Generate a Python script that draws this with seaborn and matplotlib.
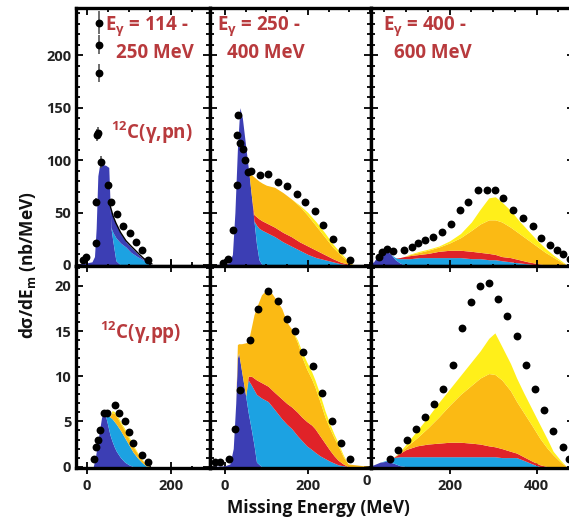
import numpy as np
import pandas as pd
import matplotlib
matplotlib.use("Agg")
import matplotlib.pyplot as plt
import seaborn as sns
from matplotlib.ticker import MultipleLocator

sns.set_style("ticks")
plt.rcParams['font.family'] = ['Open Sans', 'DejaVu Sans']
plt.rcParams['font.weight'] = 'bold'
plt.rcParams['mathtext.fontset'] = 'custom'
plt.rcParams['mathtext.rm'] = 'Open Sans:bold'
plt.rcParams['mathtext.it'] = 'Open Sans:bold'
plt.rcParams['mathtext.bf'] = 'Open Sans:bold'
plt.rcParams['mathtext.default'] = 'rm'

# ---------------- colours of model components ----------------
C_DB, C_LB, C_RD, C_OR, C_YL = "#3C3EB4", "#1CA2E2", "#E02328", "#FBBA14", "#FFEF1A"
TXT = "#B83A3D"

# ================= top row: 12C(g,pn) =================
# panel 1 : E_gamma 114-250 MeV
p1_x   = [-26, 0, 12, 18, 22, 26, 30, 35, 45, 52, 55, 57, 62, 69, 80, 93, 105, 120, 133, 145, 155]
p1_db  = [0, 2, 3, 8, 35, 85, 95, 96, 95, 93, 60, 36, 22, 4, 0, 0, 0, 0, 0, 0, 0]
p1_lb  = [0, 0, 0, 0, 0, 0, 0, 0, 0, 0, 0, 0, 9, 22, 21, 17, 12, 8, 5, 2, 0]
p1_db2 = [0, 0, 0, 0, 0, 0, 0, 0, 0, 0, 0, 16, 15, 13, 9, 5, 5, 3, 1, 1, 0]
p1_line_x = [53, 57, 62, 69, 80, 93, 105, 120, 133, 145, 155]
p1_line_y = [60, 54, 47, 40, 31, 23, 18, 12, 7, 3, 1]
p1_dx = [-10, -3, 21, 22, 24, 27, 28, 28, 28, 34, 50, 58, 72, 87, 102, 116, 130, 145]
p1_dy = [5, 8, 21, 60, 124, 126, 183, 210, 231, 98, 76, 60, 49, 37, 30, 22, 14, 5]
p1_de = [0, 0, 3, 4, 6, 6, 9, 9, 11, 6, 3, 3, 2, 2, 2, 2, 1, 1]

# panel 2 : E_gamma 250-400 MeV
p2_x  = [-36, 0, 10, 18, 24, 30, 36, 42, 48, 54, 58, 64, 70, 76, 82, 90, 100, 120, 140, 160, 180, 200, 220, 240, 260, 280, 300, 310]
p2_db = [0, 1, 2, 10, 50, 110, 150, 140, 120, 100, 87, 65, 42, 20, 5, 0, 0, 0, 0, 0, 0, 0, 0, 0, 0, 0, 0, 0]
p2_lb = [0, 0, 0, 0, 0, 0, 0, 0, 0, 0, 0, 0, 0, 18, 30, 33, 31, 27, 22, 18, 14, 10, 7, 5, 3, 1, 0, 0]
p2_rd = [0, 0, 0, 0, 0, 0, 0, 0, 0, 0, 0, 0, 6, 8, 9, 9, 9, 9, 9, 9, 8, 8, 7, 5, 3, 1.5, 0.5, 0]
p2_or = [0, 0, 0, 0, 0, 0, 0, 0, 0, 0, 0, 21, 36, 36, 36, 36, 36, 38, 38, 36, 34, 29, 23, 17, 11, 6.5, 1.5, 0]
p2_yl = [0, 0, 0, 0, 0, 0, 0, 0, 0, 0, 0, 0, 0, 0, 0, 0, 0, 0, 0, 0, 1, 3, 4, 4, 3, 2, 1, 0]
p2_dx = [-5, 8, 20, 28, 28, 32, 36, 44, 48, 56, 64, 84, 104, 128, 149, 173, 193, 217, 237, 261, 281, 301]
p2_dy = [2, 6, 33, 76, 124, 143, 116, 111, 100, 89, 90, 86, 87, 79, 75, 68, 60, 51, 38, 25, 14, 5]

# panel 3 : E_gamma 400-600 MeV
p3_x  = [12, 25, 35, 45, 55, 65, 75, 85, 95, 110, 130, 150, 175, 200, 225, 250, 270, 290, 305, 320, 340, 360, 380, 400, 420, 440, 460, 470, 486]
p3_db = [0, 3, 9, 14, 14, 10, 5, 2, 0, 0, 0, 0, 0, 0, 0, 0, 0, 0, 0, 0, 0, 0, 0, 0, 0, 0, 0, 0, 0]
p3_lb = [0, 0, 0, 0, 0, 0, 2, 4, 6, 6, 7, 7, 7, 7, 7, 6, 6, 5, 5, 4, 3, 2, 1, 0, 0, 0, 0, 0, 0]
p3_rd = [0, 0, 0, 0, 0, 0, 0, 1, 2, 3, 3, 4, 6, 7, 7, 7, 6, 6, 5, 4, 4, 3, 2, 1.5, 0, 0, 0, 0, 0]
p3_or = [0, 0, 0, 0, 0, 0, 0, 0, 0, 1, 2, 3, 4, 7, 12, 20, 27, 32, 33, 33, 29, 25, 21, 16.5, 12, 7, 2, 0, 0]
p3_yl = [0, 0, 0, 0, 0, 0, 0, 0, 0, 0.5, 1, 1, 1, 2, 4, 8, 14, 21, 22, 19, 16, 12, 9, 6, 4, 2, 1, 0, 0]
p3_dx = [38, 45, 56, 70, 94, 113, 128, 143, 162, 182, 203, 224, 243, 266, 285, 305, 323, 346, 369, 392, 411, 431, 446, 461, 477]
p3_dy = [8, 12, 15, 13, 14, 17, 21, 24, 27, 31, 39, 52, 60, 71, 71, 71, 64, 52, 45, 37, 26, 19, 14, 10, 6]

# ================= bottom row: 12C(g,pp) =================
p4_x  = [-26, 15, 20, 25, 30, 35, 40, 45, 50, 55, 60, 65, 70, 80, 90, 100, 110, 120, 130, 140, 150]
p4_db = [0, 0, 1, 2.5, 4, 5.5, 5.7, 5.5, 4.5, 3.5, 2.8, 2.2, 1.7, 1, 0.5, 0.2, 0, 0, 0, 0, 0]
p4_lb = [0, 0, 0, 0, 0, 0, 0, 0.1, 1.1, 2.0, 2.5, 2.8, 3.0, 3.0, 2.7, 2.2, 1.6, 1.0, 0.5, 0.1, 0]
p4_or = [0, 0, 0, 0, 0, 0, 0, 0, 0, 0.1, 0.7, 0.9, 0.9, 0.8, 0.8, 0.7, 0.6, 0.5, 0.3, 0.2, 0]
p4_yl = [0, 0, 0, 0, 0, 0, 0, 0, 0, 0, 0.2, 0.2, 0.2, 0.2, 0.2, 0.2, 0.2, 0.1, 0.1, 0, 0]
p4_dx = [18, 22, 26, 31, 40, 48, 67, 77, 90, 100, 110, 130, 146]
p4_dy = [0.9, 2.2, 3.0, 4.1, 5.9, 5.9, 6.8, 5.9, 5.0, 3.8, 2.6, 1.3, 0.5]

p5_x  = [-36, 0, 12, 20, 26, 30, 33, 40, 50, 56, 64, 70, 76, 88, 104, 120, 137, 149, 161, 175, 185, 197, 209, 217, 229, 241, 253, 263, 273, 285, 297, 352]
p5_db = [0, 0.1, 0.3, 2, 7, 12, 12.6, 10.6, 7.8, 6.0, 4.0, 2.4, 0.5, 0, 0, 0, 0, 0, 0, 0, 0, 0, 0, 0, 0, 0, 0, 0, 0, 0, 0, 0]
p5_lb = [0, 0, 0, 0, 0, 0, 0, 0, 0, 3.6, 5.0, 6.1, 7.5, 7.6, 7.2, 6.3, 5.3, 4.7, 4.2, 3.4, 2.9, 2.3, 1.9, 1.6, 1.2, 0.9, 0.6, 0.4, 0.2, 0.1, 0, 0]
p5_rd = [0, 0, 0, 0, 0, 0, 0, 0, 0, 0.4, 1.0, 1.3, 1.6, 1.7, 1.7, 1.9, 2.2, 2.3, 2.4, 2.6, 2.6, 2.7, 2.7, 2.6, 2.2, 1.7, 1.2, 0.8, 0.5, 0.2, 0, 0]
p5_or = [0, 0, 0, 0, 0, 1.5, 1.0, 3.0, 5.9, 3.8, 5.5, 7.0, 8.0, 9.7, 10.9, 10.5, 10.0, 9.0, 8.6, 7.7, 6.7, 5.8, 5.1, 4.6, 3.8, 2.9, 2.4, 2.0, 1.6, 0.8, 0.3, 0]
p5_yl = [0, 0, 0, 0, 0, 0, 0, 0, 0, 0, 0, 0, 0, 0, 0, 0, 0, 0, 0, 0.3, 0.6, 0.8, 0.8, 0.8, 0.8, 0.7, 0.5, 0.4, 0.3, 0.2, 0, 0]
p5_dx = [-24, -12, 10, 24, 36, 60, 80, 104, 128, 149, 169, 189, 213, 233, 257, 280, 301]
p5_dy = [0.5, 0.5, 0.9, 4.2, 8.5, 14.0, 17.4, 19.4, 18.3, 16.3, 15.0, 12.7, 11.1, 8.1, 5.1, 2.6, 0.9]

p6_x  = [12, 25, 40, 55, 70, 86, 100, 125, 150, 175, 200, 225, 250, 270, 290, 304, 320, 340, 354, 370, 390, 408, 425, 438, 455, 469, 486]
p6_db = [0, 0.2, 0.5, 0.6, 0.4, 0.1, 0, 0, 0, 0, 0, 0, 0, 0, 0, 0, 0, 0, 0, 0, 0, 0, 0, 0, 0, 0, 0]
p6_lb = [0, 0, 0, 0.1, 0.6, 1.0, 1.1, 1.1, 1.1, 1.1, 1.1, 1.1, 1.1, 1.1, 1.1, 1.1, 1.0, 1.0, 1.0, 0.7, 0.3, 0, 0, 0, 0, 0, 0]
p6_rd = [0, 0, 0, 0, 0, 0.4, 0.8, 1.2, 1.4, 1.5, 1.6, 1.6, 1.5, 1.4, 1.2, 1.1, 1.0, 0.7, 0.5, 0.4, 0.3, 0.2, 0, 0, 0, 0, 0]
p6_or = [0, 0, 0, 0, 0, 0.1, 0.3, 0.9, 1.8, 2.9, 4.1, 5.3, 6.4, 7.3, 8.0, 8.0, 7.6, 6.7, 5.7, 4.9, 3.9, 2.9, 2.0, 1.3, 0.5, 0, 0]
p6_yl = [0, 0, 0, 0, 0, 0.1, 0.3, 0.8, 1.2, 1.6, 1.8, 2.1, 2.6, 3.0, 3.9, 4.6, 3.7, 3.0, 2.6, 2.2, 1.8, 1.5, 1.0, 0.4, 0.2, 0, 0]
p6_dx = [63, 82, 101, 123, 143, 164, 185, 207, 228, 248, 270, 290, 312, 333, 354, 375, 396, 417, 438, 460, 475]
p6_dy = [0.9, 1.8, 2.9, 4.2, 5.5, 6.9, 8.6, 11.2, 15.3, 18.2, 20.0, 20.3, 18.5, 16.7, 14.4, 11.2, 8.6, 6.3, 3.9, 2.2, 0.9]

# ---------------- figure layout ----------------
W, H = 569, 525
fig = plt.figure(figsize=(W / 100, H / 100), dpi=100)
cols_px = [(76, 210), (210, 371), (371, 574)]
rows_px = [(8, 266), (266, 468)]
xlims = [(-26, 293), (-36, 352), (19, 486)]
ylims = [(-1, 245), (-0.15, 22.2)]

def make_ax(r, c):
    x0, x1 = cols_px[c]
    y0, y1 = rows_px[r]
    return fig.add_axes([x0 / W, 1 - y1 / H, (x1 - x0) / W, (y1 - y0) / H])

panels = [
    (0, 0, p1_x, [p1_db, p1_lb, p1_db2], [C_DB, C_LB, C_DB], p1_dx, p1_dy, p1_de),
    (0, 1, p2_x, [p2_db, p2_lb, p2_rd, p2_or, p2_yl], [C_DB, C_LB, C_RD, C_OR, C_YL], p2_dx, p2_dy, None),
    (0, 2, p3_x, [p3_db, p3_lb, p3_rd, p3_or, p3_yl], [C_DB, C_LB, C_RD, C_OR, C_YL], p3_dx, p3_dy, None),
    (1, 0, p4_x, [p4_db, p4_lb, p4_or, p4_yl], [C_DB, C_LB, C_OR, C_YL], p4_dx, p4_dy, None),
    (1, 1, p5_x, [p5_db, p5_lb, p5_rd, p5_or, p5_yl], [C_DB, C_LB, C_RD, C_OR, C_YL], p5_dx, p5_dy, None),
    (1, 2, p6_x, [p6_db, p6_lb, p6_rd, p6_or, p6_yl], [C_DB, C_LB, C_RD, C_OR, C_YL], p6_dx, p6_dy, None),
]

axes = {}
for r, c, x, layers, cols, dx, dy, de in panels:
    ax = make_ax(r, c)
    axes[(r, c)] = ax
    ax.stackplot(x, *layers, colors=cols, linewidth=0, zorder=1)
    if de is not None:
        ax.errorbar(dx, dy, yerr=de, fmt='none', ecolor='#555555', elinewidth=1.2, zorder=2)
    df = pd.DataFrame({"x": dx, "y": dy})
    sns.scatterplot(data=df, x="x", y="y", ax=ax, color="black", s=32, edgecolor="black",
                    linewidth=0, zorder=3, legend=False)
    if (r, c) == (0, 0):
        ax.plot(p1_line_x, p1_line_y, color="black", lw=1.0, zorder=2)
    ax.set_xlim(*xlims[c])
    ax.set_ylim(*ylims[r])
    ax.set_xlabel("")
    ax.set_ylabel("")
    ax.xaxis.set_major_locator(MultipleLocator(200))
    ax.xaxis.set_minor_locator(MultipleLocator(50))
    if r == 0:
        ax.yaxis.set_major_locator(MultipleLocator(50))
        ax.yaxis.set_minor_locator(MultipleLocator(10))
    else:
        ax.yaxis.set_major_locator(MultipleLocator(5))
        ax.yaxis.set_minor_locator(MultipleLocator(1))
    ax.tick_params(which="both", direction="in", top=True, right=True, bottom=True, left=True,
                   labelbottom=(r == 1), labelleft=(c == 0), labelsize=10.5, colors="black",
                   width=1.3)
    ax.tick_params(which="major", length=5)
    ax.tick_params(which="minor", length=3)
    if r == 1:
        ax.tick_params(axis="x", which="both", direction="inout", pad=4)
        ax.tick_params(axis="x", which="major", length=8)
    for sp in ax.spines.values():
        sp.set_linewidth(2.4)
        sp.set_color("black")
        sp.set_zorder(5)
    for lab in ax.get_xticklabels() + ax.get_yticklabels():
        lab.set_fontweight("bold")
        lab.set_color("#222222")

# "0" of the right column's energy axis lies just left of its frame
axes[(1, 2)].text(0, -0.03, "0", transform=axes[(1, 2)].get_xaxis_transform(),
                  ha="left", va="top", fontsize=10.5, fontweight="bold", color="#222222", clip_on=False)

def ftxt(px, py, s, **kw):
    fig.text(px / W, 1 - py / H, s, **kw)

tk = dict(fontsize=13.5, fontweight="bold", color=TXT, ha="left", va="top")
ftxt(105, 14, "E$_{γ}$ = 114 -", **tk)
ftxt(116, 43, "250 MeV", **tk)
ftxt(217, 14, "E$_{γ}$ = 250 -", **tk)
ftxt(227, 43, "400 MeV", **tk)
ftxt(383, 14, "E$_{γ}$ = 400 -", **tk)
ftxt(394, 43, "600 MeV", **tk)
ftxt(111, 133, "$^{12}$C(γ,pn)", fontsize=13.5, fontweight="bold", color=TXT, ha="left", va="center")
ftxt(100, 333, "$^{12}$C(γ,pp)", fontsize=13.5, fontweight="bold", color=TXT, ha="left", va="center")

ftxt(28, 265, "dσ/dE$_{m}$ (nb/MeV)", fontsize=12.5, fontweight="bold", color="#111111",
     rotation=90, ha="center", va="center")
ftxt(318, 508, "Missing Energy (MeV)", fontsize=12.5, fontweight="bold", color="#111111",
     ha="center", va="center")

fig.savefig("out.png", dpi=100, facecolor="white")
